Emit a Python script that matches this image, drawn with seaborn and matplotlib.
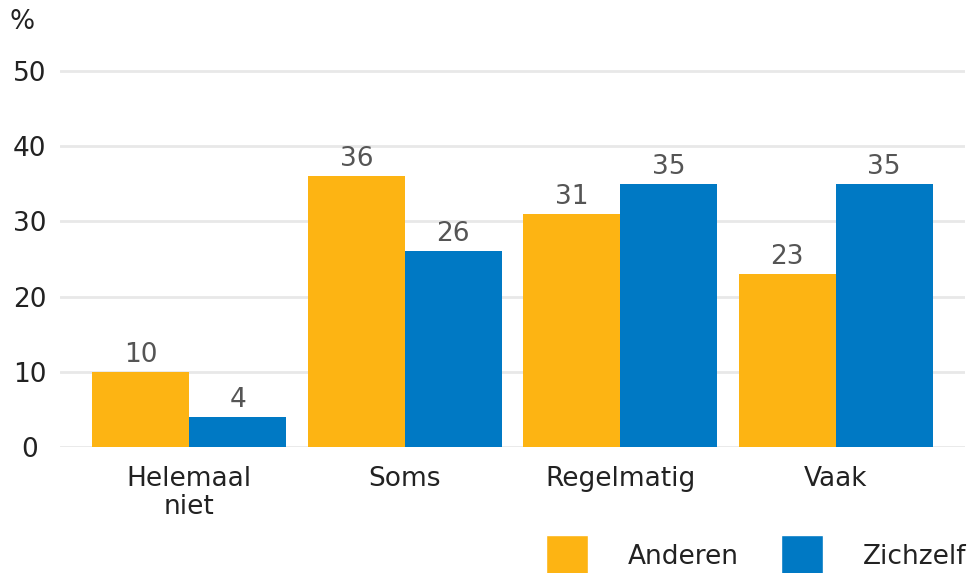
import matplotlib
matplotlib.use("Agg")
import matplotlib.pyplot as plt
import seaborn as sns
import pandas as pd
from matplotlib.patches import Patch

categories = ["Helemaal\nniet", "Soms", "Regelmatig", "Vaak"]
series = ["Anderen", "Zichzelf"]
anderen = [10, 36, 31, 23]
zichzelf = [4, 26, 35, 35]
colors = ["#FDB413", "#0079C4"]

df = pd.DataFrame({
    "cat": categories * 2,
    "groep": [series[0]] * 4 + [series[1]] * 4,
    "val": anderen + zichzelf,
})

sns.set_theme(style="white")
plt.rcParams["font.family"] = ["DejaVu Sans"]

fig = plt.figure(figsize=(9.67, 5.73), dpi=100)
ax = fig.add_axes([60/967, 126/573, 905/967, (447-56)/573])

sns.barplot(data=df, x="cat", y="val", hue="groep", palette=colors,
            width=0.9, ax=ax, legend=False, saturation=1, order=categories,
            hue_order=series, linewidth=0, edgecolor="none")

for c in ax.containers:
    ax.bar_label(c, labels=[f"{v:.0f}" for v in c.datavalues], padding=3,
                 fontsize=19, color="#555555")

ax.set_xlim(-0.6, 3.6)
ax.set_ylim(0, 52)
ax.set_yticks([0, 10, 20, 30, 40, 50])
ax.yaxis.grid(True, color="#e8e8e8", linewidth=2)
ax.set_axisbelow(True)
for s in ax.spines.values():
    s.set_visible(False)
ax.set_xlabel("")
ax.set_ylabel("")
ax.tick_params(axis="both", length=0, labelsize=19, colors="#222222")
ax.tick_params(axis="y", pad=22)
ax.tick_params(axis="x", pad=14)
for t in ax.get_yticklabels():
    t.set_horizontalalignment("center")
for t in ax.get_xticklabels():
    t.set_linespacing(1.1)

fig.text(22/967, 1 - 22/573, "%", fontsize=19, color="#222222",
         ha="center", va="center")

handles = [Patch(facecolor=colors[0], label=series[0]),
           Patch(facecolor=colors[1], label=series[1])]
fig.legend(handles=handles, loc="center right", bbox_to_anchor=(966/967, 1 - 556/573),
           ncol=2, frameon=False, fontsize=19, handlelength=1.6, handleheight=2.07,
           handletextpad=1.5, columnspacing=1.6, borderpad=0, borderaxespad=0,
           labelcolor="#222222")

fig.savefig("out.png", dpi=100)
